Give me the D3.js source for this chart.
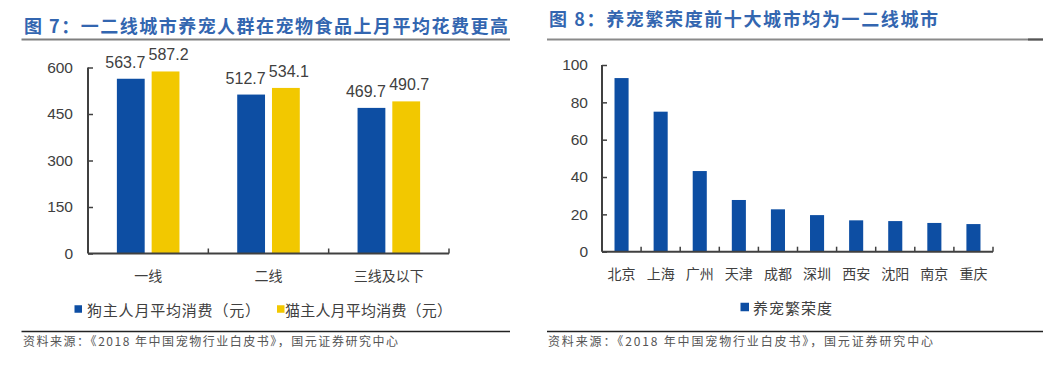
<!DOCTYPE html>
<html><head><meta charset="utf-8">
<script src="https://cdn.jsdelivr.net/npm/d3@7"></script>
<style>
body{margin:0;background:#fff;}
svg{display:block;}
text{font-family:"Liberation Sans",Arial,"Noto Sans CJK SC",sans-serif;}
.cjk{font-family:"Noto Sans CJK SC",sans-serif;}
</style></head>
<body>
<svg id="c" width="1061" height="367"></svg>
<script>
// ---- data ----
const tiers = ["一线", "二线", "三线及以下"];
const seriesNames = ["狗主人月平均消费（元）", "猫主人月平均消费（元）"];
const dogSpend = [563.7, 512.7, 469.7];
const catSpend = [587.2, 534.1, 490.7];
const leftTicks = [0, 150, 300, 450, 600];

const cities = ["北京", "上海", "广州", "天津", "成都", "深圳", "西安", "沈阳", "南京", "重庆"];
const prosperity = [93, 75, 43.2, 27.7, 22.7, 19.6, 16.8, 16.4, 15.4, 14.8];
const rightTicks = [0, 20, 40, 60, 80, 100];
const rightSeries = "养宠繁荣度";

const title1 = "图 7：一二线城市养宠人群在宠物食品上月平均花费更高";
const title2 = "图 8：养宠繁荣度前十大城市均为一二线城市";
const source = "资料来源：《2018 年中国宠物行业白皮书》，国元证券研究中心";

const BLUE = "#0d4ea3", YELLOW = "#f2c800", TITLE = "#3366b0", AX = "#404040", TXT = "#404040";

const svg = d3.select("#c");

// ---- headers / rules ----
function header(x, y, txt, len){
  svg.append("text").attr("class","cjk").attr("x",x).attr("y",y).attr("dominant-baseline","central")
    .attr("font-size",18).attr("font-weight","bold").attr("fill",TITLE)
    .attr("textLength",len).attr("lengthAdjust","spacing").text(txt);
}
header(24, 25, title1, 484);
header(549, 18, title2, 389);
svg.append("line").attr("x1",21.5).attr("x2",510).attr("y1",39.5).attr("y2",39.5).attr("stroke","#7f7f7f").attr("stroke-width",2);
svg.append("line").attr("x1",547).attr("x2",1043).attr("y1",39.5).attr("y2",39.5).attr("stroke","#8a8a8a").attr("stroke-width",2);
svg.append("line").attr("x1",1028).attr("x2",1043).attr("y1",39.5).attr("y2",39.5).attr("stroke","#555").attr("stroke-width",2);
svg.append("line").attr("x1",21.5).attr("x2",510).attr("y1",331.5).attr("y2",331.5).attr("stroke","#222").attr("stroke-width",1.5);
svg.append("line").attr("x1",547).attr("x2",1043).attr("y1",331.5).attr("y2",331.5).attr("stroke","#222").attr("stroke-width",1.5);
function src(x, len){
  svg.append("text").attr("class","cjk").attr("x",x).attr("y",340).attr("dominant-baseline","central")
    .attr("font-size",12).attr("fill","#555").attr("textLength",len).attr("lengthAdjust","spacing").text(source);
}
src(23, 375);
src(548, 385);

// ---- left chart ----
const L = {x0:88, x1:449, y0:253.5};
const yL = d3.scaleLinear().domain([0,600]).range([253.5, 67.5]);
const x0 = d3.scaleBand().domain(tiers).range([L.x0, L.x1]).paddingInner(0).paddingOuter(0);
const x1 = d3.scaleBand().domain([0,1]).range([x0.bandwidth()*0.24, x0.bandwidth()*0.76]).paddingInner(0.2);
const gL = svg.append("g");
const vals = [dogSpend, catSpend];
const cols = [BLUE, YELLOW];
const labelShift = [-5.5, 3];
vals.forEach((arr, s) => {
  gL.selectAll(null).data(arr).enter().append("rect")
    .attr("x",(d,i)=>x0(tiers[i])+x1(s)).attr("width",x1.bandwidth())
    .attr("y",d=>yL(d)).attr("height",d=>yL(0)-yL(d)).attr("fill",cols[s]);
  gL.selectAll(null).data(arr).enter().append("text")
    .attr("x",(d,i)=>x0(tiers[i])+x1(s)+x1.bandwidth()/2+labelShift[s])
    .attr("y",d=>yL(d)-11).attr("text-anchor","middle").attr("font-size",16).attr("fill",TXT)
    .text(d=>d.toFixed(1));
});
// y axis
const ayL = gL.append("g").attr("transform",`translate(${L.x0},0)`)
  .call(d3.axisLeft(yL).tickValues(leftTicks).tickSize(-5).tickPadding(15).tickFormat(d3.format("d")));
ayL.select(".domain").attr("d",`M0,${yL(600)}V${yL(0)}`);
// x axis
const axL = gL.append("g").attr("transform",`translate(0,${L.y0})`);
axL.append("line").attr("x1",L.x0).attr("x2",L.x1).attr("stroke",AX).attr("stroke-width",2);
axL.selectAll(null).data(tiers.slice(1).concat(["_end"])).enter().append("line")
  .attr("x1",(d,i)=> i<tiers.length-1 ? x0(d) : L.x1).attr("x2",(d,i)=> i<tiers.length-1 ? x0(d) : L.x1)
  .attr("y1",0).attr("y2",-5).attr("stroke",AX).attr("stroke-width",1.5);
axL.selectAll(null).data(tiers).enter().append("text").attr("class","cjk")
  .attr("x",d=>x0(d)+x0.bandwidth()/2).attr("y",21.5).attr("dominant-baseline","central")
  .attr("text-anchor","middle").attr("font-size",14).attr("fill",TXT).text(d=>d);

// ---- right chart ----
const R = {x0:602, x1:993, y0:251.7};
const yR = d3.scaleLinear().domain([0,100]).range([251.7, 65]);
const xR = d3.scaleBand().domain(cities).range([R.x0, R.x1]).paddingInner(0.64).paddingOuter(0.32);
const gR = svg.append("g");
gR.selectAll(null).data(prosperity).enter().append("rect")
  .attr("x",(d,i)=>xR(cities[i])).attr("width",xR.bandwidth())
  .attr("y",d=>yR(d)).attr("height",d=>yR(0)-yR(d)).attr("fill",BLUE);
const ayR = gR.append("g").attr("transform",`translate(${R.x0},0)`)
  .call(d3.axisLeft(yR).tickValues(rightTicks).tickSize(-5).tickPadding(14).tickFormat(d3.format("d")));
ayR.select(".domain").attr("d",`M0,${yR(100)}V${yR(0)}`);
const axR = gR.append("g").attr("transform",`translate(0,${R.y0})`);
axR.append("line").attr("x1",R.x0).attr("x2",R.x1).attr("stroke",AX).attr("stroke-width",2);
const stepR = (R.x1-R.x0)/cities.length;
axR.selectAll(null).data(cities).enter().append("line")
  .attr("x1",(d,i)=>R.x0+stepR*(i+1)).attr("x2",(d,i)=>R.x0+stepR*(i+1))
  .attr("y1",0).attr("y2",-5).attr("stroke",AX).attr("stroke-width",1.5);
axR.selectAll(null).data(cities).enter().append("text").attr("class","cjk")
  .attr("x",d=>xR(d)+xR.bandwidth()/2).attr("y",21.5).attr("dominant-baseline","central")
  .attr("text-anchor","middle").attr("font-size",14).attr("fill",TXT).text(d=>d);

// axis styling
[ayL, ayR].forEach(a=>{
  a.select(".domain").attr("stroke",AX).attr("stroke-width",2);
  a.selectAll(".tick line").attr("stroke",AX).attr("stroke-width",1.5);
  a.selectAll(".tick text").attr("font-size",15.5).attr("fill",TXT)
    .attr("font-family","'Liberation Sans',Arial,sans-serif");
});

// ---- legends ----
function legend(sx, cy, size, color, tx, len, txt){
  svg.append("rect").attr("x",sx).attr("y",cy-size/2).attr("width",size).attr("height",size).attr("fill",color);
  svg.append("text").attr("class","cjk").attr("x",tx).attr("y",cy).attr("dominant-baseline","central")
    .attr("font-size",15).attr("fill",TXT).attr("textLength",len).attr("lengthAdjust","spacing").text(txt);
}
legend(74.5, 309, 7.5, BLUE, 87, 173, seriesNames[0]);
legend(277, 309, 7.5, YELLOW, 285, 167, seriesNames[1]);
legend(740.5, 307, 8.5, BLUE, 753, 79, rightSeries);
</script>
</body></html>
